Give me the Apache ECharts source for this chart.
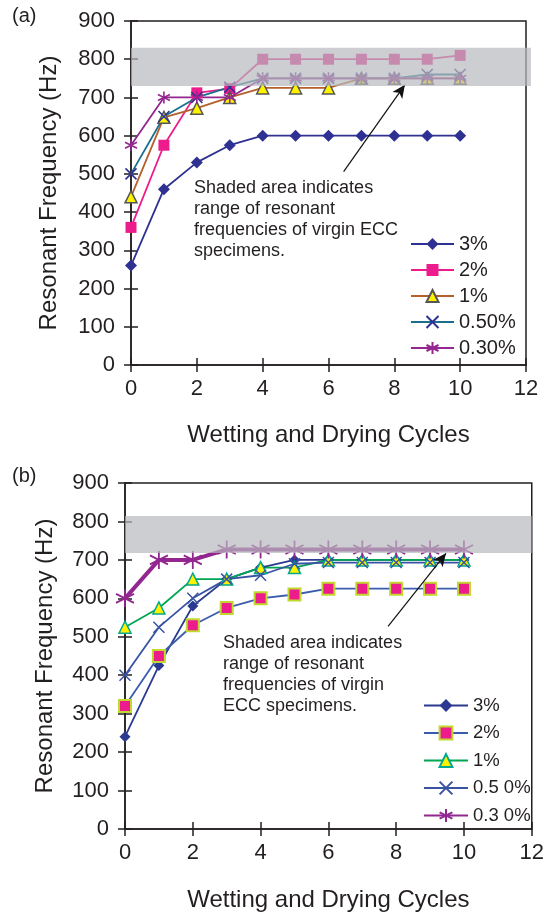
<!DOCTYPE html>
<html>
<head>
<meta charset="utf-8">
<script src="https://cdn.jsdelivr.net/npm/echarts@6/dist/echarts.min.js"></script>
<style>
  html, body { margin: 0; padding: 0; background: #fff; }
  #chart { width: 547px; height: 913px; }
</style>
</head>
<body>
<div id="chart"></div>
<script>
// wetting / drying cycles (x values)
const cycles = [0, 1, 2, 3, 4, 5, 6, 7, 8, 9, 10];

// panel (a)
const namesA = ['3%', '2%', '1%', '0.50%', '0.30%'];
const a3 = [260, 460, 530, 575, 600, 600, 600, 600, 600, 600, 600];
const a2 = [360, 575, 712, 723, 800, 800, 800, 800, 800, 800, 810];
const a1 = [440, 648, 672, 700, 725, 725, 725, 750, 750, 750, 750];
const a05 = [500, 650, 700, 727, 750, 750, 750, 750, 750, 760, 760];
const a03 = [575, 700, 700, 700, 750, 750, 750, 750, 750, 750, 750];
const bandA = [0, 12.15, 730, 830];
const arrowA = [[6.46, 506], [8.32, 733]];

// panel (b)
const namesB = ['3%', '2%', '1%', '0.5 0%', '0.3 0%'];
const b3 = [240, 425, 580, 650, 680, 700, 700, 700, 700, 700, 700];
const b2 = [320, 450, 530, 575, 600, 610, 625, 625, 625, 625, 625];
const b1 = [525, 575, 650, 650, 680, 680, 700, 700, 700, 700, 700];
const b05 = [400, 525, 600, 650, 660, 690, 693, 693, 693, 693, 693];
const b03 = [600, 700, 700, 727, 727, 727, 727, 727, 727, 727, 727];
const bandB = [0, 12, 718, 814];
const arrowB = [[7.76, 527], [9.47, 717]];

const xTicks = [0, 12, 2];
const yTicks = [0, 900, 100];

const FONT = '"Liberation Sans", Arial, sans-serif';
const INK = '#231f20';
const SYM_X = 'path://M0,0L10,10M10,0L0,10';
const SYM_AST = 'path://M5,0L5,10M0.7,2.5L9.3,7.5M9.3,2.5L0.7,7.5';

function pairs(ys) {
    let out = [];
    for (let i = 0; i < ys.length; i++) out.push([cycles[i], ys[i]]);
    return out;
}

function makeAxes(grid, dim) {
    let isX = dim === 'x';
    let t = isX ? xTicks : yTicks;
    let main = {
        type: 'value', gridIndex: grid, min: t[0], max: t[1], interval: t[2],
        position: isX ? 'bottom' : 'left',
        axisLine: { show: true, lineStyle: { color: INK, width: 1.5 } },
        axisTick: { show: true, length: 7, lineStyle: { color: INK, width: 1.5 } },
        axisLabel: { color: INK, fontSize: 22, fontFamily: FONT, margin: isX ? 13 : 16 },
        splitLine: { show: false },
        name: isX ? 'Wetting and Drying Cycles' : 'Resonant Frequency (Hz)',
        nameLocation: 'middle',
        nameGap: isX ? 58 : 70,
        nameTextStyle: { color: INK, fontSize: 24, fontFamily: FONT }
    };
    // second axis only for the inward half of the crossing ticks
    let inner = {
        type: 'value', gridIndex: grid, min: t[0], max: t[1], interval: t[2],
        position: isX ? 'bottom' : 'left',
        axisLine: { show: false },
        axisTick: { show: true, inside: true, length: 7, lineStyle: { color: INK, width: 1.5 } },
        axisLabel: { show: false },
        splitLine: { show: false }
    };
    return [main, inner];
}

function lineSeries(name, ys, axis, o) {
    return {
        name: name,
        type: 'line',
        xAxisIndex: axis, yAxisIndex: axis,
        data: pairs(ys),
        symbol: o.symbol,
        symbolSize: o.size,
        showAllSymbol: true,
        lineStyle: { color: o.line, width: o.width || 1.8 },
        itemStyle: { color: o.fill, borderColor: o.border, borderWidth: o.bw || 0 },
        z: 2
    };
}

function bandSeries(band, axis) {
    return {
        type: 'custom',
        xAxisIndex: axis, yAxisIndex: axis,
        z: 10,
        silent: true,
        data: [band],
        renderItem: function (params, api) {
            let p1 = api.coord([api.value(0), api.value(3)]);
            let p2 = api.coord([api.value(1), api.value(2)]);
            return {
                type: 'rect',
                shape: { x: p1[0], y: p1[1], width: p2[0] - p1[0], height: p2[1] - p1[1] },
                style: { fill: 'rgba(184,185,190,0.7)' }
            };
        }
    };
}

function arrowSeries(arrow, axis) {
    return {
        type: 'line',
        xAxisIndex: axis, yAxisIndex: axis,
        data: [],
        z: 20,
        silent: true,
        markLine: {
            silent: true,
            symbol: ['none', 'arrow'],
            symbolSize: [9, 13],
            label: { show: false },
            lineStyle: { color: '#111', width: 1.2, type: 'solid' },
            data: [[{ coord: arrow[0] }, { coord: arrow[1] }]]
        }
    };
}

let xAxes = makeAxes(0, 'x').concat(makeAxes(1, 'x'));
let yAxes = makeAxes(0, 'y').concat(makeAxes(1, 'y'));
// panel (b) title offsets
xAxes[2].nameGap = 59;
yAxes[2].nameGap = 68;

let series = [
    lineSeries('a' + namesA[0], a3, 0, { symbol: 'diamond', size: 12, line: '#2e3192', fill: '#2e3192' }),
    lineSeries('a' + namesA[1], a2, 0, { symbol: 'rect', size: 11, line: '#ec1c8c', fill: '#ec1c8c' }),
    lineSeries('a' + namesA[2], a1, 0, { symbol: 'triangle', size: 12, line: '#b5602a', fill: '#fff200', border: '#555', bw: 1.5 }),
    lineSeries('a' + namesA[3], a05, 0, { symbol: SYM_X, size: 11, line: '#1a6f8e', fill: '#2e3192', border: '#2e3192', bw: 1.6 }),
    lineSeries('a' + namesA[4], a03, 0, { symbol: SYM_AST, size: 12, line: '#93278f', fill: '#93278f', border: '#93278f', bw: 1.6 }),
    bandSeries(bandA, 0),
    arrowSeries(arrowA, 0),

    lineSeries('b' + namesB[0], b3, 2, { symbol: 'diamond', size: 11, line: '#2b3990', fill: '#2b3990' }),
    lineSeries('b' + namesB[1], b2, 2, { symbol: 'rect', size: 12, line: '#3b5cad', fill: '#ec1c8c', border: '#c1d82f', bw: 2 }),
    lineSeries('b' + namesB[2], b1, 2, { symbol: 'triangle', size: 12, line: '#00a651', fill: '#fff200', border: '#00a88f', bw: 1.5 }),
    lineSeries('b' + namesB[3], b05, 2, { symbol: SYM_X, size: 11, line: '#3853a4', fill: '#3853a4', border: '#3853a4', bw: 1.5 }),
    lineSeries('b' + namesB[4], b03, 2, { symbol: SYM_AST, size: 18, line: '#92278f', fill: '#92278f', border: '#92278f', bw: 1.8, width: 4 }),
    bandSeries(bandB, 2),
    arrowSeries(arrowB, 2)
];

function noteText(left, top, text) {
    return {
        type: 'text', left: left, top: top, z: 30,
        style: { text: text, fontSize: 18, lineHeight: 21, fontFamily: FONT, fill: INK }
    };
}

let option = {
    animation: false,
    backgroundColor: '#fff',
    grid: [
        { left: 131, top: 21, width: 395, height: 344, show: true, borderColor: INK, borderWidth: 1.5 },
        { left: 125, top: 483, width: 410, height: 350, show: true, borderColor: INK, borderWidth: 1.5 }
    ],
    xAxis: xAxes,
    yAxis: yAxes,
    legend: [
        {
            data: namesA.map(n => 'a' + n),
            formatter: n => n.slice(1),
            orient: 'vertical', left: 405, top: 229,
            itemWidth: 43, itemHeight: 15, itemGap: 6,
            selectedMode: false,
            textStyle: { color: INK, fontSize: 20, lineHeight: 20, fontFamily: FONT }
        },
        {
            data: namesB.map(n => 'b' + n),
            formatter: n => n.slice(1),
            orient: 'vertical', left: 418, top: 691,
            itemWidth: 44, itemHeight: 16, itemGap: 8.5,
            selectedMode: false,
            textStyle: { color: INK, fontSize: 18.5, lineHeight: 19, fontFamily: FONT }
        }
    ],
    graphic: [
        { type: 'text', left: 12, top: 6, style: { text: '(a)', fontSize: 20, fontFamily: FONT, fill: INK } },
        { type: 'text', left: 12, top: 466, style: { text: '(b)', fontSize: 20, fontFamily: FONT, fill: INK } },
        noteText(194, 178, 'Shaded area indicates\nrange of resonant\nfrequencies of virgin ECC\nspecimens.'),
        noteText(223, 633, 'Shaded area indicates\nrange of resonant\nfrequencies of virgin\nECC specimens.')
    ],
    series: series
};

let myChart = echarts.init(document.getElementById('chart'));
myChart.setOption(option);
window.onresize = function () {
    myChart.resize();
};
</script>
</body>
</html>
